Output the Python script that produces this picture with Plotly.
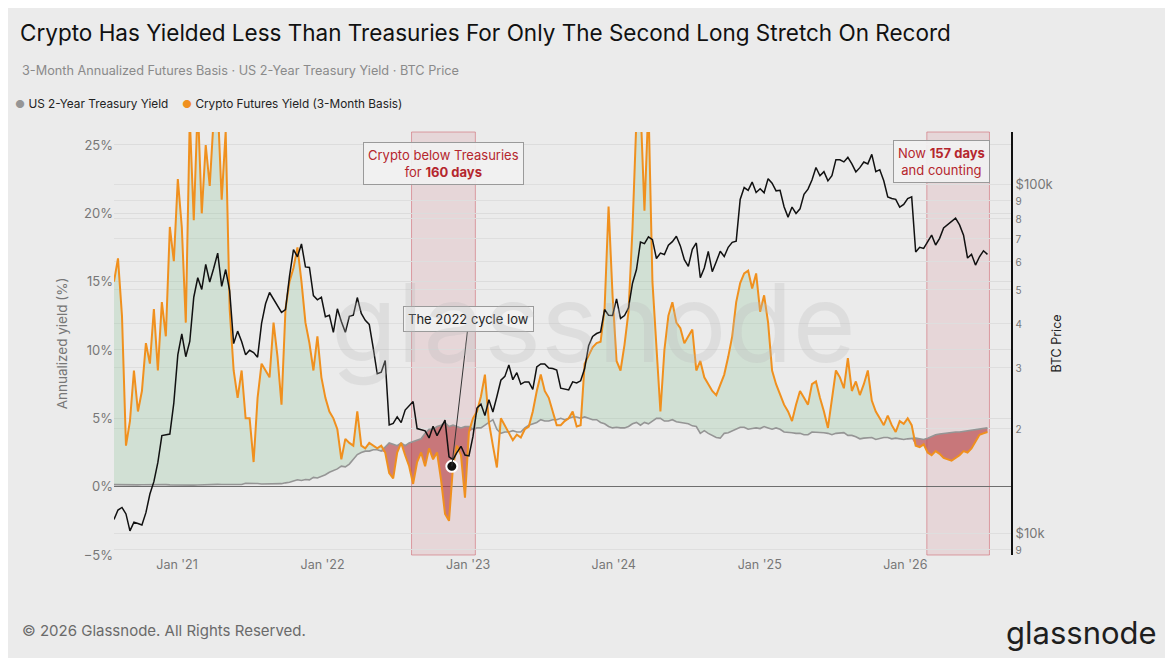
import numpy as np
import pandas as pd
import plotly.graph_objects as go

# 10-day sampling grid, first point 2020-07-27
DATES = pd.date_range('2020-07-27', periods=220, freq='10D')

# Crypto futures yield, 3-month annualized basis (%)
CRYPTO_YIELD = [
    15.0, 16.7, 12.5, 3.0, 4.8, 8.5, 5.5, 7.0, 10.5, 9.0,
    13.0, 8.5, 13.5, 11.0, 19.0, 16.5, 22.5, 19.0, 12.0, 27.0,
    19.5, 28.0, 20.0, 25.0, 22.0, 27.0, 28.0, 21.0, 26.0, 13.0,
    8.5, 6.5, 8.5, 5.0, 5.0, 1.8, 6.5, 9.0, 8.5, 8.0,
    12.0, 9.5, 6.0, 13.0, 15.0, 16.0, 17.5, 15.0, 12.0, 10.5,
    8.5, 11.0, 8.0, 6.5, 5.5, 5.0, 4.2, 2.0, 3.5, 3.2,
    3.0, 5.5, 3.0, 2.8, 3.2, 3.0, 2.8, 3.0, 2.5, 1.0,
    0.6, 2.5, 3.2, 2.3, 1.5, 0.2, 1.8, 2.5, 1.5, 2.8,
    2.0, 2.5, 0.5, -2.0, -2.5, 1.5, 3.0, 2.3, -0.8, 4.0,
    5.0, 5.5, 6.6, 8.2, 4.7, 3.0, 1.4, 5.0, 4.5, 4.0,
    3.4, 3.8, 3.6, 4.2, 4.4, 5.5, 7.0, 8.2, 7.0, 6.5,
    5.5, 4.5, 4.5, 4.8, 5.0, 5.5, 4.4, 4.5, 9.0, 9.6,
    10.2, 10.5, 10.6, 13.0, 20.5, 14.0, 9.2, 8.5, 10.4, 12.8,
    18.9, 27.0, 28.0, 20.2, 28.0, 15.0, 10.0, 5.5, 10.0, 12.5,
    13.5, 12.0, 11.6, 10.5, 11.0, 11.5, 8.5, 9.2, 8.0, 7.5,
    7.0, 6.7, 7.5, 8.2, 9.5, 11.0, 13.5, 14.9, 15.6, 15.8,
    14.5, 15.6, 12.8, 14.0, 12.0, 8.5, 7.5, 6.7, 6.0, 5.5,
    4.8, 6.0, 7.0, 6.5, 6.0, 7.5, 7.7, 6.5, 5.5, 4.3,
    6.5, 8.5, 8.0, 7.2, 9.4, 7.0, 7.7, 6.7, 7.5, 8.5,
    6.3, 5.5, 5.0, 4.5, 5.2, 4.5, 4.0, 4.8, 4.6, 5.0,
    4.5, 3.0, 2.9, 3.1, 2.5, 2.3, 2.6, 2.4, 2.1, 2.0,
    1.9, 2.1, 2.3, 2.6, 2.5, 2.8, 3.3, 3.8, 3.9, 4.0,
]

# US 2-year treasury yield (%)
TREASURY_YIELD = [
    0.15, 0.14, 0.15, 0.13, 0.13, 0.14, 0.13, 0.14, 0.15, 0.16,
    0.15, 0.16, 0.16, 0.15, 0.13, 0.12, 0.13, 0.12, 0.12, 0.11,
    0.11, 0.12, 0.14, 0.15, 0.15, 0.16, 0.17, 0.16, 0.16, 0.15,
    0.15, 0.14, 0.16, 0.25, 0.26, 0.25, 0.23, 0.20, 0.20, 0.22,
    0.22, 0.21, 0.22, 0.28, 0.32, 0.42, 0.50, 0.45, 0.52, 0.50,
    0.68, 0.64, 0.75, 0.87, 1.05, 1.18, 1.30, 1.50, 1.45, 1.65,
    2.0, 2.35, 2.5, 2.6, 2.6, 2.7, 2.7, 2.6, 2.9, 3.2,
    3.1, 3.0, 3.2, 3.0, 3.2, 3.3, 3.4, 3.5, 3.9, 4.2,
    4.2, 4.4, 4.5, 4.7, 4.4, 4.5, 4.4, 4.3, 4.4, 4.4,
    4.2, 4.3, 4.3, 4.5, 4.7, 4.9, 4.2, 3.9, 4.0, 4.0,
    4.1, 4.0, 4.0, 4.3, 4.5, 4.6, 4.7, 4.9, 4.8, 4.8,
    4.9, 4.9, 5.0, 4.9, 5.0, 5.1, 5.1, 5.0, 5.1, 5.0,
    4.9, 4.9, 4.7, 4.6, 4.4, 4.3, 4.35, 4.3, 4.3, 4.4,
    4.6, 4.7, 4.5, 4.7, 4.6, 4.8, 5.0, 5.0, 4.8, 4.8,
    4.9, 4.75, 4.7, 4.7, 4.6, 4.45, 4.4, 3.9, 4.1, 3.9,
    3.75, 3.6, 3.55, 3.9, 3.95, 4.1, 4.2, 4.35, 4.35, 4.2,
    4.25, 4.3, 4.25, 4.4, 4.3, 4.2, 4.3, 4.2, 4.0, 4.0,
    3.95, 3.9, 3.9, 3.8, 3.8, 4.0, 4.0, 3.95, 3.95, 3.9,
    3.8, 3.9, 3.9, 3.95, 3.75, 3.75, 3.65, 3.5, 3.55, 3.6,
    3.6, 3.45, 3.55, 3.6, 3.6, 3.5, 3.55, 3.5, 3.45, 3.5,
    3.55, 3.55, 3.5, 3.45, 3.55, 3.7, 3.8, 3.85, 3.9, 3.9,
    3.95, 4.0, 4.0, 4.05, 4.1, 4.15, 4.15, 4.2, 4.25, 4.3,
]

# BTC price (USD)
BTC_PRICE = [
    11000, 11700, 11900, 11400, 10200, 10800, 10700, 10600, 11500, 13000,
    14100, 16000, 19100, 19200, 19300, 23700, 32500, 37300, 32100, 35500,
    47500, 54000, 50000, 59000, 52500, 57500, 63500, 51000, 57000, 49500,
    35000, 38000, 35500, 32500, 33500, 33000, 32000, 40000, 45500, 49000,
    47000, 45000, 43000, 43800, 54500, 65000, 62000, 67500, 58000, 57800,
    48000, 46700, 47500, 41800, 42200, 37700, 44000, 40500, 37700, 41900,
    42200, 47400, 42700, 40800, 39700, 34000, 28700, 29000, 31300, 20500,
    20700, 21600, 20800, 22600, 23200, 23900, 20000, 19800, 19700, 18800,
    20300, 19100, 20100, 21150, 16600, 16300, 17100, 17800, 16800, 16700,
    19000, 22900, 23500, 21800, 24200, 22300, 24700, 27500, 28200, 30400,
    27600, 28900, 26800, 27200, 27200, 25900, 30000, 30600, 30600, 29800,
    29700, 29400, 26100, 26000, 25800, 27200, 27000, 27400, 29700, 34500,
    36700, 37400, 37800, 43800, 42200, 42100, 47000, 41300, 42100, 44300,
    52100, 57000, 68300, 67600, 70700, 69400, 61300, 63500, 62900, 66900,
    68500, 71000, 66600, 60800, 58200, 65100, 67900, 54000, 57600, 64200,
    56200, 60000, 64300, 62100, 66000, 68200, 68700, 90400, 97800, 96000,
    101400, 94700, 97000, 94500, 103700, 100600, 95700, 96000, 86200, 80500,
    86000, 82500, 85000, 93500, 96800, 102800, 111600, 105700, 108600, 102200,
    105700, 117500, 117400, 115800, 119300, 114300, 108400, 111500, 115700, 114300,
    121700, 108600, 110000, 102300, 92000, 91000, 90500, 86000, 87500, 91000,
    92000, 64000, 66000, 65500, 68700, 71500, 67000, 70000, 75000, 76500,
    78500, 80000, 76500, 71500, 61500, 63000, 58700, 62000, 64500, 63000,
]

# 2022 cycle low
CYCLE_LOW_DATE = '2022-11-21'
CYCLE_LOW_PRICE = 15600

# highlighted stretches where crypto yielded less than treasuries
STRETCHES = [('2022-08-12', '2023-01-19'), ('2026-02-24', '2026-07-31')]
# spans where the gap below treasuries is shaded red
RED_SPANS = [('2022-06-01', '2023-01-20'), ('2026-01-20', '2026-08-01')]

YIELD_TICK_VALS = [-5, 0, 5, 10, 15, 20, 25]
YIELD_TICK_TEXT = ['−5%', '0%', '5%', '10%', '15%', '20%', '25%']
BTC_TICK_VALS = [9000, 10000, 20000, 30000, 40000, 50000, 60000, 70000, 80000, 90000, 100000]
BTC_TICK_TEXT = ['9', '$10k', '2', '3', '4', '5', '6', '7', '8', '9', '$100k']

FONT = 'Inter, Noto Sans, sans-serif'
BG = '#ebebeb'
ORANGE = '#f0901e'
GRAY = '#959595'
RED_TEXT = '#b5262d'

# page is drawn with an 8px body margin; positions below are page pixels
OFF = 8
PAGE_W, PAGE_H = 1173, 658
L, R, T, B = 114, 1011, 132, 555


def px(x):
    return (x - L) / (R - L)


def py(y):
    return (B - y) / (B - T)


crypto = np.array(CRYPTO_YIELD)
treasury = np.array(TREASURY_YIELD)
above = np.maximum(crypto, treasury)
in_red = np.zeros(len(DATES), dtype=bool)
for s, e in RED_SPANS:
    in_red |= (DATES >= s) & (DATES <= e)
below = np.where(in_red, np.minimum(crypto, treasury), treasury)

fig = go.Figure()

# green fill where crypto > treasuries
fig.add_trace(go.Scatter(x=DATES, y=treasury, mode='lines', line=dict(width=0), hoverinfo='skip'))
fig.add_trace(go.Scatter(x=DATES, y=above, mode='lines', line=dict(width=0),
                         fill='tonexty', fillcolor='rgba(150,200,160,0.3)', hoverinfo='skip'))
# red fill where crypto < treasuries during the long stretches
fig.add_trace(go.Scatter(x=DATES, y=treasury, mode='lines', line=dict(width=0), hoverinfo='skip'))
fig.add_trace(go.Scatter(x=DATES, y=below, mode='lines', line=dict(width=0),
                         fill='tonexty', fillcolor='rgba(180,55,60,0.6)', hoverinfo='skip'))

fig.add_trace(go.Scatter(x=DATES, y=treasury, mode='lines', name='US 2-Year Treasury Yield',
                         line=dict(color=GRAY, width=1.6)))
fig.add_trace(go.Scatter(x=DATES, y=crypto, mode='lines', name='Crypto Futures Yield (3-Month Basis)',
                         line=dict(color=ORANGE, width=2)))

fig.add_trace(go.Scatter(x=DATES, y=BTC_PRICE, mode='lines', name='BTC Price', yaxis='y2',
                         line=dict(color='#111111', width=1.5)))
fig.add_trace(go.Scatter(x=[CYCLE_LOW_DATE], y=[CYCLE_LOW_PRICE], mode='markers', yaxis='y2',
                         marker=dict(color='#111111', size=11, line=dict(color='white', width=2)),
                         hoverinfo='skip'))

for start, end in STRETCHES:
    fig.add_shape(type='rect', xref='x', yref='paper', x0=start, x1=end, y0=0, y1=1,
                  fillcolor='rgba(205,95,105,0.14)', line=dict(color='rgba(205,95,105,0.55)', width=1),
                  layer='below')

box = dict(bgcolor='rgba(241,241,241,0.92)', bordercolor='#9a9a9a', borderwidth=1, borderpad=4)
fig.add_annotation(x='2022-11-01', y=py(163), xref='x', yref='paper', showarrow=False, yanchor='middle',
                   text='Crypto below Treasuries<br>for <b>160 days</b>',
                   font=dict(size=13, color=RED_TEXT, family=FONT), **box)
fig.add_annotation(x='2026-04-01', y=py(161), xref='x', yref='paper', showarrow=False, yanchor='middle',
                   text='Now <b>157 days</b><br>and counting',
                   font=dict(size=13, color=RED_TEXT, family=FONT), **box)
fig.add_annotation(x=CYCLE_LOW_DATE, y=np.log10(CYCLE_LOW_PRICE), xref='x', yref='y2',
                   text='The 2022 cycle low', showarrow=True, arrowhead=0, arrowwidth=1,
                   arrowcolor='#333333', ax=17, ay=-147,
                   font=dict(size=13, color='#222222', family=FONT), **box)

# legend row
legend_items = [(13, GRAY, 'US 2-Year Treasury Yield'), (180, ORANGE, 'Crypto Futures Yield (3-Month Basis)')]
for x0, color, label in legend_items:
    fig.add_annotation(x=px(x0), y=py(104), xref='paper', yref='paper', xanchor='left', yanchor='middle',
                       showarrow=False,
                       text=f"<span style='color:{color};font-size:11px'>●</span> {label}",
                       font=dict(size=11.8, color='#222222', family=FONT))

# subtitle, watermark, footer, logo
fig.add_annotation(x=px(20), y=py(70), xref='paper', yref='paper', xanchor='left', yanchor='middle',
                   showarrow=False,
                   text='3-Month Annualized Futures Basis · US 2-Year Treasury Yield · BTC Price',
                   font=dict(size=12.7, color='#8a8a8a', family=FONT))
fig.add_annotation(x=px(593), y=py(322), xref='paper', yref='paper', yanchor='middle', showarrow=False,
                   text='glassnode', font=dict(size=108, color='rgba(185,185,185,0.28)', family=FONT))
fig.add_annotation(x=px(20), y=py(630), xref='paper', yref='paper', xanchor='left', yanchor='middle',
                   showarrow=False,
                   text='© 2026 Glassnode. All Rights Reserved.',
                   font=dict(size=15, color='#6a6a6a', family=FONT))
fig.add_annotation(x=px(1159), y=py(632), xref='paper', yref='paper', xanchor='right', yanchor='middle',
                   showarrow=False,
                   text='glassnode', font=dict(size=31, color='#1e1e1e', family=FONT))

btc_labels = [t if t.startswith('$') else f"<span style='font-size:10px'>{t}</span>" for t in BTC_TICK_TEXT]

fig.update_layout(
    width=PAGE_W - OFF, height=PAGE_H - OFF,
    margin=dict(l=L - OFF, r=PAGE_W - R, t=T - OFF, b=PAGE_H - B),
    paper_bgcolor=BG, plot_bgcolor=BG,
    font=dict(family=FONT, color='#333333'),
    showlegend=False,
    title=dict(text='Crypto Has Yielded Less Than Treasuries For Only The Second Long Stretch On Record',
               x=(20 - OFF) / (PAGE_W - OFF), xref='container', xanchor='left',
               y=1 - (33 - OFF) / (PAGE_H - OFF), yref='container', yanchor='middle',
               font=dict(size=22.5, color='#111111', family=FONT)),
    xaxis=dict(type='date', range=['2020-07-27', '2026-09-23'], dtick='M12', tick0='2021-01-01',
               tickformat="%b '%y", showgrid=False, zeroline=False, showline=False, ticks='',
               tickfont=dict(size=12.5, color='#777777')),
    yaxis=dict(range=[-5, 25.95], tickvals=YIELD_TICK_VALS, ticktext=YIELD_TICK_TEXT,
               showgrid=True, gridcolor='#dcdcdc', gridwidth=1,
               zeroline=True, zerolinecolor='#6e6e6e', zerolinewidth=1,
               tickfont=dict(size=13, color='#777777'),
               title=dict(text='Annualized yield (%)', font=dict(size=13.5, color='#777777'), standoff=12)),
    yaxis2=dict(type='log', overlaying='y', side='right', range=[np.log10(8700), np.log10(141000)],
                tickvals=BTC_TICK_VALS, ticktext=btc_labels,
                showgrid=True, gridcolor='#dedede', gridwidth=1,
                showline=True, linecolor='#111111', linewidth=2, ticks='',
                tickfont=dict(size=13, color='#777777'),
                title=dict(text='BTC Price', font=dict(size=12.5, color='#222222'), standoff=0)),
    hovermode='x unified',
)

fig.write_html('out.html')
